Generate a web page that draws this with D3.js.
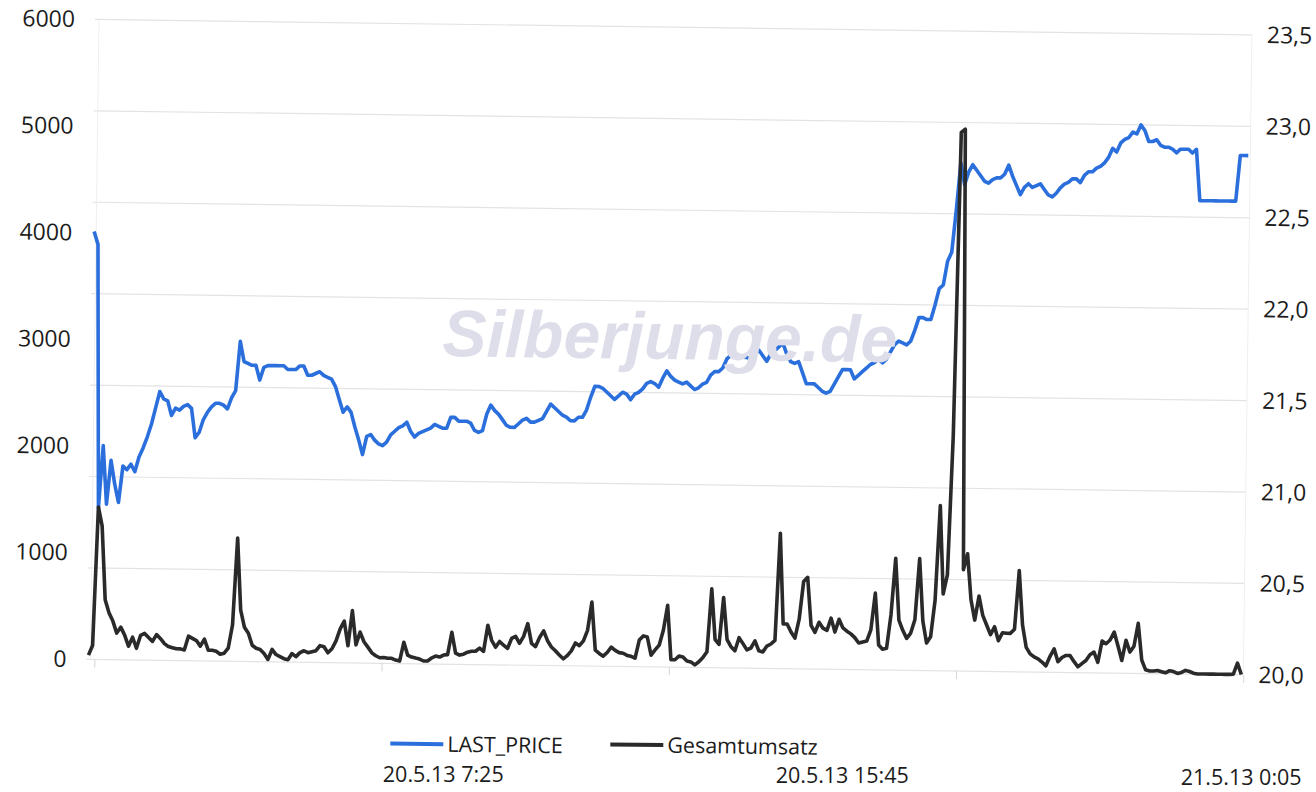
<!DOCTYPE html>
<html>
<head>
<meta charset="utf-8">
<script src="https://cdn.jsdelivr.net/npm/d3@7"></script>
<style>
  body { margin: 0; background: #fff; }
</style>
</head>
<body>
<div id="chart"></div>
<script>
// 5-minute values, 20.5.13 0:00 .. 21.5.13 0:05
const prices = [
  22.34, 22.27, 20.83, 21.17, 20.85, 21.09, 20.96, 20.86, 21.06, 21.04,
  21.07, 21.03, 21.11, 21.16, 21.22, 21.29, 21.38, 21.47, 21.43, 21.42,
  21.34, 21.38, 21.37, 21.39, 21.40, 21.38, 21.22, 21.25, 21.32, 21.36,
  21.39, 21.41, 21.41, 21.40, 21.38, 21.44, 21.48, 21.75, 21.64, 21.63,
  21.62, 21.62, 21.54, 21.61, 21.62, 21.62, 21.62, 21.62, 21.62, 21.60,
  21.60, 21.60, 21.62, 21.62, 21.57, 21.57, 21.58, 21.59, 21.57, 21.56,
  21.55, 21.51, 21.44, 21.37, 21.40, 21.37, 21.29, 21.22, 21.14, 21.24,
  21.25, 21.22, 21.20, 21.19, 21.21, 21.25, 21.27, 21.29, 21.30, 21.32,
  21.27, 21.24, 21.26, 21.27, 21.28, 21.29, 21.31, 21.30, 21.29, 21.29,
  21.35, 21.35, 21.33, 21.33, 21.33, 21.32, 21.28, 21.27, 21.28, 21.37,
  21.42, 21.39, 21.37, 21.34, 21.31, 21.30, 21.30, 21.32, 21.34, 21.35,
  21.33, 21.33, 21.34, 21.35, 21.39, 21.43, 21.41, 21.39, 21.37, 21.36,
  21.34, 21.34, 21.36, 21.36, 21.40, 21.47, 21.53, 21.53, 21.52, 21.50,
  21.48, 21.46, 21.48, 21.50, 21.49, 21.46, 21.49, 21.50, 21.52, 21.55,
  21.56, 21.55, 21.53, 21.58, 21.62, 21.59, 21.57, 21.56, 21.55, 21.56,
  21.54, 21.52, 21.53, 21.55, 21.56, 21.60, 21.62, 21.62, 21.64, 21.69,
  21.71, 21.71, 21.71, 21.70, 21.70, 21.69, 21.72, 21.74, 21.71, 21.68,
  21.72, 21.74, 21.76, 21.78, 21.72, 21.68, 21.67, 21.68, 21.62, 21.56,
  21.56, 21.56, 21.54, 21.52, 21.51, 21.52, 21.56, 21.60, 21.64, 21.64,
  21.64, 21.59, 21.61, 21.63, 21.65, 21.67, 21.68, 21.70, 21.68, 21.70,
  21.74, 21.78, 21.80, 21.79, 21.78, 21.80, 21.86, 21.93, 21.93, 21.92,
  21.92, 22.00, 22.09, 22.11, 22.24, 22.29, 22.52, 22.78, 22.66, 22.73,
  22.77, 22.74, 22.71, 22.68, 22.67, 22.69, 22.70, 22.70, 22.72, 22.77,
  22.71, 22.66, 22.61, 22.65, 22.67, 22.65, 22.66, 22.67, 22.64, 22.61,
  22.60, 22.62, 22.65, 22.67, 22.68, 22.70, 22.70, 22.68, 22.72, 22.74,
  22.74, 22.76, 22.77, 22.79, 22.82, 22.87, 22.85, 22.90, 22.92, 22.93,
  22.96, 22.95, 23.00, 22.97, 22.91, 22.91, 22.92, 22.89, 22.88, 22.88,
  22.87, 22.85, 22.87, 22.87, 22.87, 22.85, 22.87, 22.59, 22.59, 22.59,
  22.59, 22.59, 22.59, 22.59, 22.59, 22.59, 22.59, 22.84, 22.84, 22.84
];

const volumes = [
  40, 130, 1430, 1250, 560, 440, 362, 250, 306, 232,
  128, 213, 110, 232, 250, 213, 176, 241, 203, 157,
  130, 120, 110, 110, 100, 230, 210, 190, 138, 204,
  101, 101, 92, 65, 75, 122, 340, 1155, 480, 320,
  265, 153, 125, 115, 78, 22, 116, 69, 50, 31,
  22, 80, 52, 90, 108, 90, 100, 110, 158, 148,
  92, 130, 205, 317, 390, 160, 490, 170, 290, 200,
  150, 97, 70, 52, 55, 48, 48, 32, 23, 200,
  80, 62, 53, 45, 27, 28, 56, 75, 66, 85,
  90, 300, 105, 87, 96, 115, 125, 125, 155, 125,
  370, 230, 165, 220, 185, 155, 250, 270, 205, 270,
  390, 205, 175, 262, 325, 233, 175, 140, 100, 65,
  95, 140, 215, 190, 235, 335, 600, 150, 120, 95,
  130, 180, 150, 130, 125, 105, 97, 80, 250, 290,
  280, 110, 160, 205, 345, 580, 70, 70, 105, 97,
  60, 52, 25, 55, 95, 150, 740, 265, 220, 660,
  265, 200, 162, 285, 230, 172, 190, 258, 165, 155,
  210, 230, 265, 1270, 420, 420, 345, 288, 466, 820,
  860, 410, 345, 440, 385, 365, 480, 350, 470, 390,
  360, 335, 300, 250, 260, 270, 375, 720, 235, 195,
  205, 520, 1050, 470, 375, 300, 350, 475, 1050, 465,
  260, 318, 660, 1550, 720, 900, 2200, 5050, 5080, 950,
  1100, 670, 480, 705, 525, 435, 345, 420, 290, 365,
  360, 360, 400, 950, 440, 230, 170, 142, 125, 95,
  60, 150, 220, 100, 140, 160, 160, 105, 55, 85,
  115, 170, 195, 100, 300, 275, 310, 385, 255, 120,
  310, 200, 255, 470, 125, 35, 25, 25, 30, 20,
  10, 30, 22, 5, 15, 35, 25, 10, 3, 3,
  3, 3, 3, 3, 3, 3, 3, 5, 110, 3
];

const leftTicks = [0, 1000, 2000, 3000, 4000, 5000, 6000];
const rightTicks = [20.0, 20.5, 21.0, 21.5, 22.0, 22.5, 23.0, 23.5];
const xLabels = ["20.5.13 7:25", "20.5.13 15:45", "21.5.13 0:05"];
const xLabelIndex = [89, 189, 289];
const xTickIndex = [1.5, 73.5, 145.5, 217.5, 289.5];
const seriesNames = ["LAST_PRICE", "Gesamtumsatz"];
const seriesColors = ["#2a6fdc", "#2a2a2a"];

const width = 1316, height = 792;
const plot = { left: 92, right: 1247, top: 27, bottom: 667 };
const font = "'Open Sans', 'DejaVu Sans', sans-serif";
const tilt = 0.77;

const svg = d3.select("#chart")
  .append("svg")
  .attr("width", width)
  .attr("height", height);

svg.append("rect").attr("width", width).attr("height", height).attr("fill", "#fff");

// the scanned page is a bit crooked
const g = svg.append("g").attr("transform", "rotate(" + tilt + ", 658, 396)");

const x = d3.scaleLinear().domain([0, prices.length - 1]).range([92, 1245]);
const yLeft = d3.scaleLinear().domain([0, 6000]).range([plot.bottom, plot.top]);
const yRight = d3.scaleLinear().domain([20, 23.5]).range([plot.bottom, plot.top]);

const deFormat = d3.formatLocale({ decimal: ",", thousands: ".", grouping: [3], currency: ["", " €"] }).format(".1f");

// gridlines follow the right axis
g.append("g")
  .selectAll("line")
  .data(rightTicks)
  .join("line")
  .attr("x1", plot.left - 2)
  .attr("x2", plot.right)
  .attr("y1", d => yRight(d))
  .attr("y2", d => yRight(d))
  .attr("stroke", "#e3e3e3")
  .attr("stroke-width", 1.2);

// faint side borders
g.append("g")
  .selectAll("line")
  .data([plot.left + 2, plot.right])
  .join("line")
  .attr("x1", d => d).attr("x2", d => d)
  .attr("y1", plot.top).attr("y2", plot.bottom)
  .attr("stroke", "#efefef")
  .attr("stroke-width", 1);

// bottom tick marks
g.append("g")
  .attr("transform", "translate(0," + plot.bottom + ")")
  .call(d3.axisBottom(x).tickValues(xTickIndex).tickSize(8).tickFormat(""))
  .call(a => a.select(".domain").remove())
  .selectAll("line").attr("stroke", "#d6d6d6");

// left axis
g.append("g")
  .attr("transform", "translate(" + plot.left + ",0)")
  .call(d3.axisLeft(yLeft).tickValues(leftTicks).tickSize(0).tickPadding(22).tickFormat(d3.format("d")))
  .call(a => a.select(".domain").remove())
  .attr("font-family", font)
  .attr("font-size", 23)
  .attr("color", "#1c1c1c");

// right axis
g.append("g")
  .attr("transform", "translate(" + plot.right + ",0)")
  .call(d3.axisRight(yRight).tickValues(rightTicks).tickSize(0).tickPadding(15).tickFormat(deFormat))
  .call(a => a.select(".domain").remove())
  .attr("font-family", font)
  .attr("font-size", 23)
  .attr("color", "#1c1c1c");

const priceLine = d3.line()
  .x((d, i) => x(i))
  .y(d => yRight(d));

const volumeLine = d3.line()
  .x((d, i) => x(i))
  .y(d => yLeft(d));

g.append("path")
  .datum(prices)
  .attr("d", priceLine)
  .attr("fill", "none")
  .attr("stroke", seriesColors[0])
  .attr("stroke-width", 3.6)
  .attr("stroke-linejoin", "round");

g.append("path")
  .datum(volumes)
  .attr("d", volumeLine)
  .attr("fill", "none")
  .attr("stroke", seriesColors[1])
  .attr("stroke-width", 3.6)
  .attr("stroke-linejoin", "round");

// watermark sits over the lines
g.append("text")
  .attr("x", 669)
  .attr("y", 359)
  .attr("text-anchor", "middle")
  .attr("font-family", "'Liberation Sans', Arial, sans-serif")
  .attr("font-weight", "bold")
  .attr("font-style", "italic")
  .attr("font-size", 66)
  .attr("fill", "#dddee9")
  .text("Silberjunge.de");

// legend
const legendX = [395, 615];
const legendY = [747, 745];
const legend = g.append("g")
  .selectAll("g")
  .data(seriesNames)
  .join("g")
  .attr("transform", (d, i) => "translate(" + legendX[i] + "," + legendY[i] + ")");

legend.append("line")
  .attr("x1", 0).attr("x2", 53)
  .attr("y1", 0).attr("y2", 0)
  .attr("stroke", (d, i) => seriesColors[i])
  .attr("stroke-width", 4);

legend.append("text")
  .attr("x", 57)
  .attr("y", 0)
  .attr("dy", "0.35em")
  .attr("font-family", font)
  .attr("font-size", 21.5)
  .attr("fill", "#1c1c1c")
  .text(d => d);

// category labels, kept level so the last one stays on the page
svg.append("g")
  .selectAll("text")
  .data(xLabels)
  .join("text")
  .attr("x", (d, i) => x(xLabelIndex[i] + 0.3) - 5)
  .attr("y", (d, i) => 775 + (x(xLabelIndex[i]) - 658) * 0.004)
  .attr("dy", "0.35em")
  .attr("text-anchor", "middle")
  .attr("font-family", font)
  .attr("font-size", 21.5)
  .attr("fill", "#1c1c1c")
  .text(d => d);
</script>
</body>
</html>
